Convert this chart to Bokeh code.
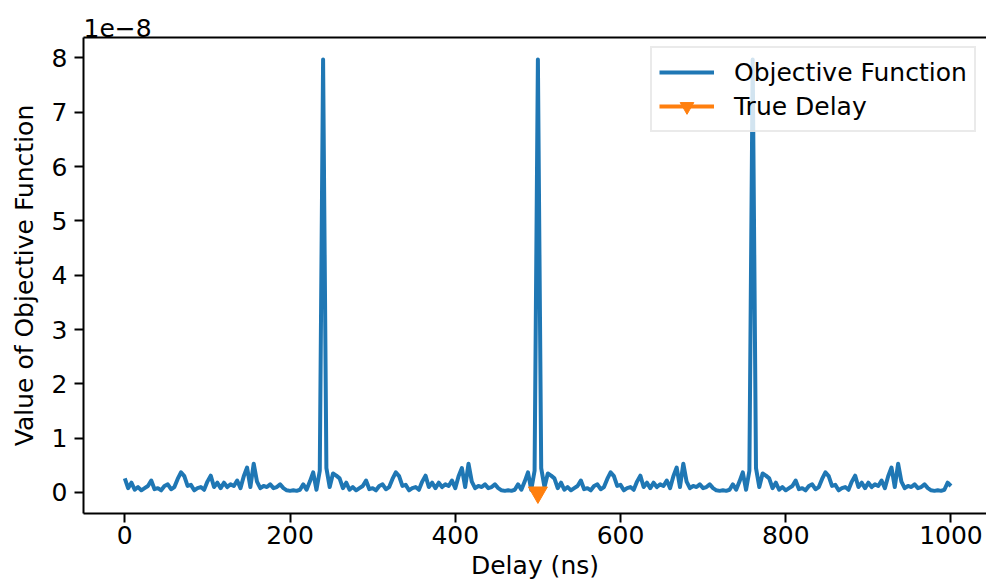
import numpy as np
from bokeh.plotting import figure
from bokeh.models import LinearAxis, FixedTicker, Legend, LegendItem, Range1d
from bokeh.embed import file_html
from bokeh.resources import INLINE

# Objective function values (units of 1e-8), sampled every 4 ns
delay_a = np.arange(0, 257, 4)      # 0 .. 256 ns
obj_a = [0.26, 0.08, 0.18, 0.05, 0.10, 0.04, 0.08, 0.12, 0.22, 0.06,
         0.08, 0.04, 0.12, 0.15, 0.06, 0.10, 0.25, 0.37, 0.30, 0.12,
         0.14, 0.04, 0.08, 0.10, 0.05, 0.20, 0.31, 0.10, 0.18, 0.08,
         0.18, 0.10, 0.15, 0.12, 0.22, 0.08, 0.30, 0.46, 0.10, 0.53,
         0.20, 0.08, 0.12, 0.10, 0.15, 0.08, 0.10, 0.15, 0.08, 0.04,
         0.03, 0.04, 0.03, 0.05, 0.15, 0.05, 0.20, 0.37, 0.05, 0.40,
         7.97, 0.45, 0.10, 0.35, 0.31]
delay_b = np.arange(260, 517, 4)    # 260 .. 516 ns
obj_b = [0.26, 0.08, 0.18, 0.05, 0.10, 0.04, 0.08, 0.12, 0.22, 0.06,
         0.08, 0.04, 0.12, 0.15, 0.06, 0.10, 0.25, 0.37, 0.30, 0.12,
         0.14, 0.04, 0.08, 0.10, 0.05, 0.20, 0.31, 0.10, 0.18, 0.08,
         0.18, 0.10, 0.15, 0.12, 0.22, 0.08, 0.30, 0.45, 0.10, 0.53,
         0.20, 0.08, 0.12, 0.10, 0.15, 0.08, 0.10, 0.15, 0.08, 0.04,
         0.03, 0.04, 0.03, 0.05, 0.15, 0.05, 0.20, 0.37, 0.05, 0.40,
         7.97, 0.45, 0.10, 0.35, 0.31]
delay_c = np.arange(520, 777, 4)    # 520 .. 776 ns
obj_c = [0.26, 0.08, 0.18, 0.05, 0.10, 0.04, 0.08, 0.12, 0.22, 0.06,
         0.08, 0.04, 0.12, 0.15, 0.06, 0.10, 0.25, 0.37, 0.30, 0.12,
         0.14, 0.04, 0.08, 0.10, 0.05, 0.20, 0.31, 0.10, 0.18, 0.08,
         0.18, 0.10, 0.15, 0.12, 0.22, 0.08, 0.30, 0.46, 0.10, 0.53,
         0.20, 0.08, 0.12, 0.10, 0.15, 0.08, 0.10, 0.15, 0.08, 0.04,
         0.03, 0.04, 0.03, 0.05, 0.15, 0.05, 0.20, 0.37, 0.05, 0.40,
         7.97, 0.45, 0.10, 0.35, 0.31]
delay_d = np.arange(780, 1001, 4)   # 780 .. 1000 ns
obj_d = [0.26, 0.08, 0.18, 0.05, 0.10, 0.04, 0.08, 0.12, 0.22, 0.06,
         0.08, 0.04, 0.12, 0.15, 0.06, 0.10, 0.25, 0.37, 0.30, 0.12,
         0.14, 0.04, 0.08, 0.10, 0.05, 0.20, 0.31, 0.10, 0.18, 0.08,
         0.18, 0.10, 0.15, 0.12, 0.22, 0.08, 0.30, 0.46, 0.10, 0.53,
         0.20, 0.08, 0.12, 0.10, 0.15, 0.08, 0.10, 0.15, 0.08, 0.04,
         0.03, 0.04, 0.03, 0.05, 0.18, 0.12]

true_delay = [500]
true_delay_value = [0.0]

x_ticks = [0, 200, 400, 600, 800, 1000]
y_ticks = [0, 1, 2, 3, 4, 5, 6, 7, 8]

delay = np.concatenate([delay_a, delay_b, delay_c, delay_d])
objective = np.array(obj_a + obj_b + obj_c + obj_d)

FONT = "DejaVu Sans"
FS = "25px"
BLUE = "#1f77b4"
ORANGE = "#ff7f0e"

p = figure(width=986, height=582, x_range=Range1d(-50, 1043),
           y_range=Range1d(-0.387, 8.377), output_backend="svg",
           toolbar_location=None, min_border_left=83, min_border_right=0,
           min_border_top=37, min_border_bottom=69)
p.outline_line_color = None
p.grid.visible = False
p.background_fill_color = "white"

p.title.text = "1e\u22128"
p.title.align = "left"
p.title.text_font = FONT
p.title.text_font_size = FS
p.title.text_font_style = "normal"
p.title.text_color = "black"
p.title.standoff = 1

for ax in (p.xaxis[0], p.yaxis[0]):
    ax.axis_line_width = 2
    ax.axis_line_color = "black"
    ax.major_tick_line_width = 2
    ax.major_tick_line_color = "black"
    ax.major_tick_out = 9
    ax.major_tick_in = 0
    ax.minor_tick_out = 0
    ax.minor_tick_in = 0
    ax.major_label_text_font = FONT
    ax.major_label_text_font_size = FS
    ax.major_label_text_color = "black"
    ax.axis_label_text_font = FONT
    ax.axis_label_text_font_size = FS
    ax.axis_label_text_font_style = "normal"
    ax.axis_label_text_color = "black"

p.xaxis[0].ticker = FixedTicker(ticks=x_ticks)
p.yaxis[0].ticker = FixedTicker(ticks=y_ticks)
p.xaxis[0].axis_label = "Delay (ns)"
p.yaxis[0].axis_label = "Value of Objective Function"
p.xaxis[0].major_label_standoff = 3
p.xaxis[0].axis_label_standoff = 4
p.yaxis[0].major_label_standoff = 7
p.yaxis[0].axis_label_standoff = 10

top_axis = LinearAxis(ticker=FixedTicker(ticks=[]), major_label_text_font_size="0px",
                      major_tick_out=0, major_tick_in=0, minor_tick_out=0,
                      minor_tick_in=0, axis_line_width=2, axis_line_color="black",
                      major_label_standoff=0)
p.add_layout(top_axis, "above")

r_obj = p.line(delay, objective, line_color=BLUE, line_width=4, line_join="round")
r_true_line = p.line(true_delay, true_delay_value, line_color=ORANGE, line_width=4)
r_true_mark = p.scatter(true_delay, true_delay_value, marker="inverted_triangle",
                        size=19, fill_color=ORANGE, line_color=ORANGE, line_width=1)

legend = Legend(items=[LegendItem(label="Objective Function", renderers=[r_obj]),
                       LegendItem(label="True Delay", renderers=[r_true_line, r_true_mark])],
                location=(567, 381), margin=0, padding=7, spacing=0,
                glyph_width=55, glyph_height=34, label_height=34,
                label_standoff=20, label_text_font=FONT, label_text_font_size=FS,
                label_text_color="black",
                border_line_color="#d6d6d6", border_line_width=2,
                background_fill_color="white", background_fill_alpha=0.8)
p.add_layout(legend)

open("out.html", "w").write(file_html(p, INLINE))
